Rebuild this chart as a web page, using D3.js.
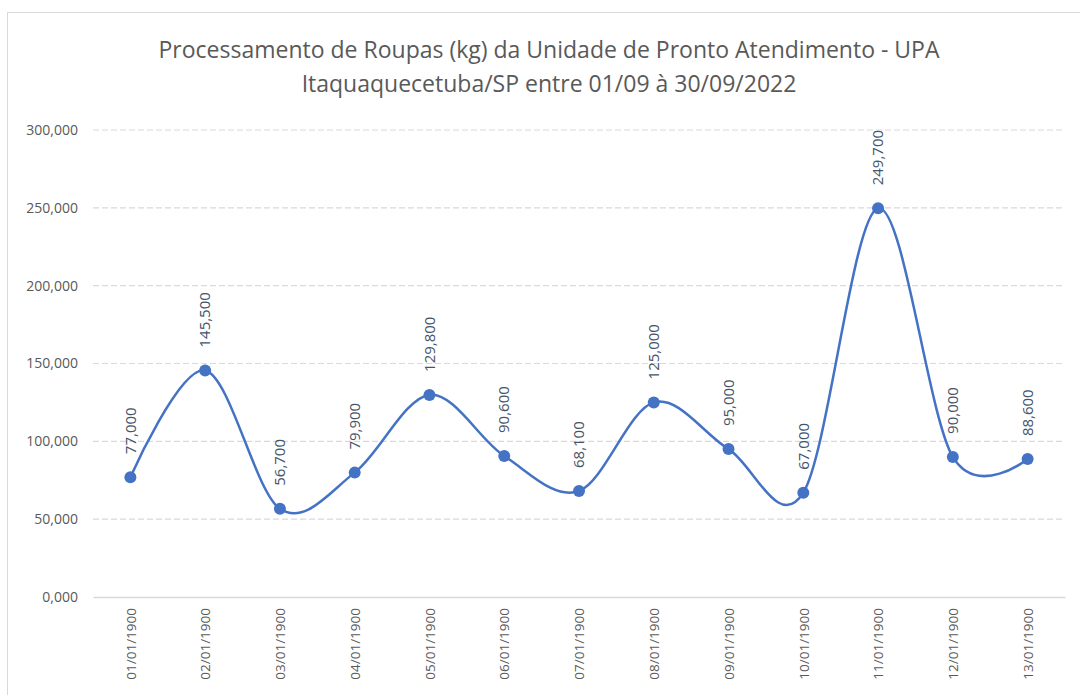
<!DOCTYPE html>
<html>
<head>
<meta charset="utf-8">
<script src="https://cdn.jsdelivr.net/npm/d3@7"></script>
<style>
  body { margin: 0; background: #fff; }
  text { font-family: "Open Sans", "Noto Sans", sans-serif; }
</style>
</head>
<body>
<div id="chart"></div>
<script>
var data = [
    {dia: "01/01/1900", kg: 77000},
    {dia: "02/01/1900", kg: 145500},
    {dia: "03/01/1900", kg: 56700},
    {dia: "04/01/1900", kg: 79900},
    {dia: "05/01/1900", kg: 129800},
    {dia: "06/01/1900", kg: 90600},
    {dia: "07/01/1900", kg: 68100},
    {dia: "08/01/1900", kg: 125000},
    {dia: "09/01/1900", kg: 95000},
    {dia: "10/01/1900", kg: 67000},
    {dia: "11/01/1900", kg: 249700},
    {dia: "12/01/1900", kg: 90000},
    {dia: "13/01/1900", kg: 88600}
];

var W = 1080, H = 695;
var margin = {top: 130, right: 15, bottom: 98, left: 93};
var width = W - margin.left - margin.right;
var height = H - margin.top - margin.bottom;

// pt-BR style numbers: 77000 -> "77,000"
function fmt(v) { return (v / 1000).toFixed(3).replace(".", ","); }

var root = d3.select("#chart")
    .append("svg")
    .attr("width", W)
    .attr("height", H);

// chart area border
root.append("rect")
    .attr("x", 7.5).attr("y", 12.5)
    .attr("width", 1100).attr("height", 700)
    .attr("fill", "none")
    .attr("stroke", "#d9d9d9");

// Title
var title = root.append("text")
    .attr("text-anchor", "middle")
    .attr("fill", "#595959")
    .style("font-size", "23px");
title.append("tspan").attr("x", 549).attr("y", 58)
    .text("Processamento de Roupas (kg) da Unidade de Pronto Atendimento - UPA");
title.append("tspan").attr("x", 549).attr("y", 92)
    .text("Itaquaquecetuba/SP entre 01/09 à 30/09/2022");

var svg = root.append("g")
    .attr("transform", "translate(" + margin.left + "," + margin.top + ")");

var x = d3.scalePoint()
    .domain(data.map(function (d) { return d.dia; }))
    .range([0, width])
    .padding(0.5);

var y = d3.scaleLinear()
    .domain([0, 300000])
    .range([height, 0]);

// gridlines
svg.append("g")
    .selectAll("line")
    .data(y.ticks(6).filter(function (t) { return t > 0; }))
    .enter()
    .append("line")
    .attr("x1", 0).attr("x2", width)
    .attr("y1", function (d) { return y(d); })
    .attr("y2", function (d) { return y(d); })
    .attr("stroke", "#d9d9d9")
    .attr("stroke-width", 1.2)
    .attr("stroke-dasharray", "6,3");

// Y axis
var yAxis = svg.append("g")
    .call(d3.axisLeft(y).ticks(6).tickSize(0).tickPadding(15).tickFormat(fmt));
yAxis.select(".domain").remove();
yAxis.selectAll("text")
    .attr("fill", "#595959")
    .style("font-size", "14px");

// X axis
var xAxis = svg.append("g")
    .attr("transform", "translate(0," + height + ")")
    .call(d3.axisBottom(x).tickSize(0));
xAxis.select(".domain")
    .attr("stroke", "#d9d9d9")
    .attr("stroke-width", 1.5);
xAxis.selectAll("text")
    .attr("fill", "#595959")
    .style("font-size", "13.5px")
    .attr("text-anchor", "end")
    .attr("dy", "0.35em")
    .attr("transform", "translate(0,11) rotate(-90)")
    .attr("x", 0)
    .attr("y", 0);

// smoothed line
var line = d3.line()
    .x(function (d) { return x(d.dia); })
    .y(function (d) { return y(d.kg); })
    .curve(d3.curveCardinal.tension(0));

svg.append("path")
    .datum(data)
    .attr("fill", "none")
    .attr("stroke", "#4472c4")
    .attr("stroke-width", 2.5)
    .attr("d", line);

// markers
svg.append("g")
    .selectAll("circle")
    .data(data)
    .enter()
    .append("circle")
    .attr("cx", function (d) { return x(d.dia); })
    .attr("cy", function (d) { return y(d.kg); })
    .attr("r", 6)
    .attr("fill", "#4472c4");

// data labels
svg.append("g")
    .selectAll("text")
    .data(data)
    .enter()
    .append("text")
    .attr("transform", function (d) {
        return "translate(" + x(d.dia) + "," + (y(d.kg) - 23) + ") rotate(-90)";
    })
    .attr("dy", "0.35em")
    .attr("fill", "#44546a")
    .style("font-size", "15px")
    .text(function (d) { return fmt(d.kg); });
</script>
</body>
</html>
